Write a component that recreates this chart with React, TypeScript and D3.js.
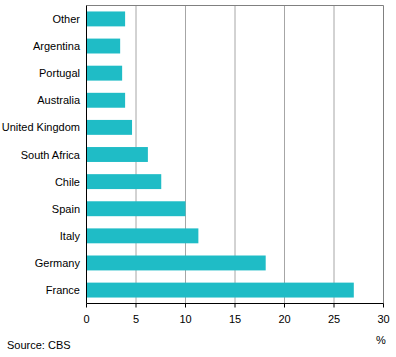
import React from "react";
import * as d3 from "d3";

const categories = ["Other", "Argentina", "Portugal", "Australia", "United Kingdom", "South Africa", "Chile", "Spain", "Italy", "Germany", "France"];
const values = [3.9, 3.4, 3.6, 3.9, 4.6, 6.2, 7.55, 10.0, 11.3, 18.1, 27.0];
const xTicks = [0, 5, 10, 15, 20, 25, 30];

const W = 396, H = 357;
const left = 86.5, right = 383.5, top = 5.5, bottom = 303.5;

export default function App() {
  const x = d3.scaleLinear().domain([0, 30]).range([left, right]);
  const y = d3.scaleBand<string>().domain(categories).range([top, bottom]).paddingInner(0.45).paddingOuter(0.22);
  const font = "'Liberation Sans', Arial, sans-serif";
  return (
    <svg width={W} height={H} style={{ position: "absolute", left: 0, top: 0, background: "#fff" }} fontFamily={font} fontSize={11}>
      {xTicks.filter(t => t > 0).map(t => (
        <line key={"g" + t} x1={x(t)} x2={x(t)} y1={top} y2={bottom} stroke={t === 30 ? "#808080" : "#a6a6a6"} strokeWidth={1} />
      ))}
      <line x1={left} x2={right} y1={top} y2={top} stroke="#808080" strokeWidth={1} />
      {categories.map((c, i) => (
        <rect key={c} x={x(0)} y={y(c)!} width={x(values[i]) - x(0)} height={y.bandwidth()} fill="#1fbcc6" />
      ))}
      <line x1={left} x2={left} y1={top} y2={bottom} stroke="#000" strokeWidth={1} />
      <line x1={left} x2={right} y1={bottom} y2={bottom} stroke="#000" strokeWidth={1} />
      {xTicks.map(t => (
        <g key={"t" + t}>
          <line x1={x(t)} x2={x(t)} y1={bottom} y2={bottom + 4} stroke="#000" />
          <text x={x(t)} y={323} textAnchor="middle" fill="#000">{t}</text>
        </g>
      ))}
      {categories.map(c => (
        <text key={"l" + c} x={80} y={y(c)! + y.bandwidth() / 2 + 4} textAnchor="end" fill="#000">{c}</text>
      ))}
      <text x={381} y={344} textAnchor="middle" fill="#000">%</text>
      <text x={7} y={349} fill="#000">Source: CBS</text>
    </svg>
  );
}
